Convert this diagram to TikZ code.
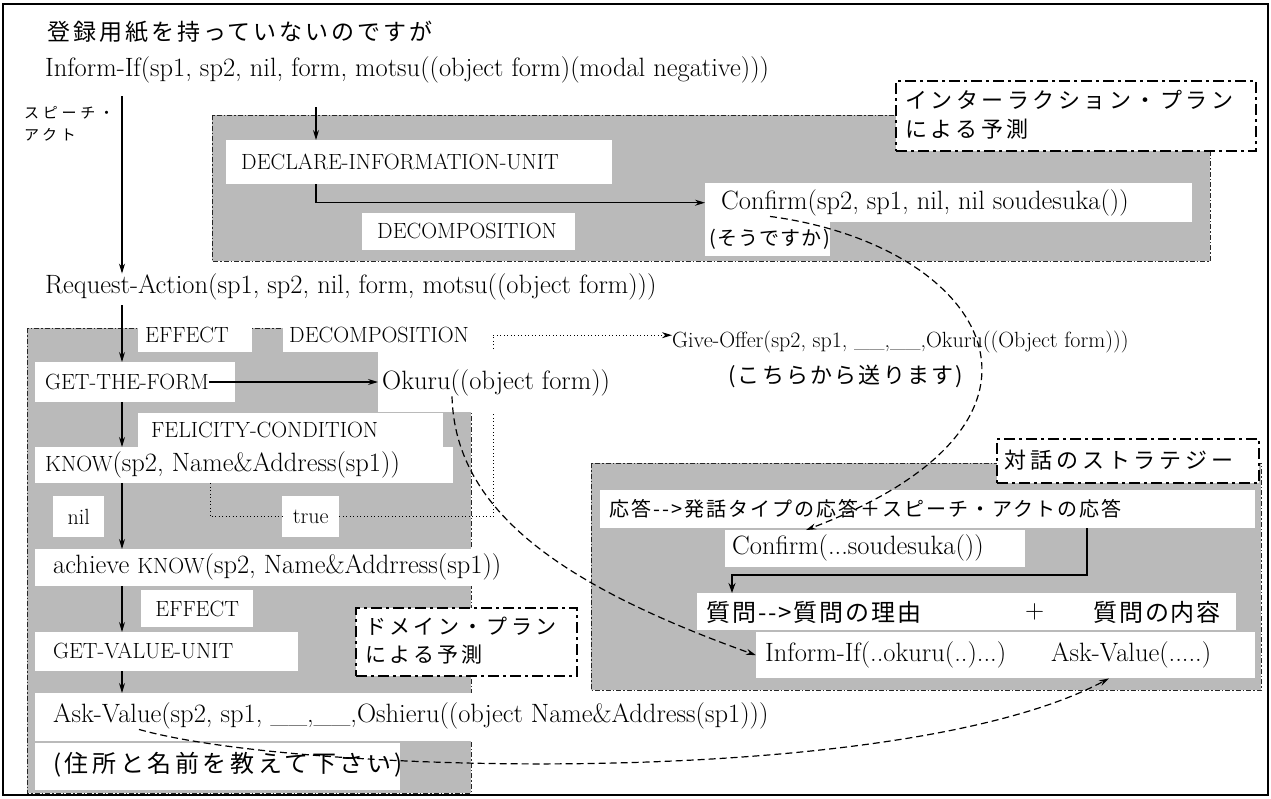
\documentclass[tikz,border=0pt]{standalone}
\usepackage{fontspec}
\newfontfamily\jp{Noto Sans CJK JP}
\usetikzlibrary{arrows.meta}
\newcommand\J[3]{{\jp\fontsize{#1}{#1}\selectfont\addfontfeature{LetterSpace=#2}#3}}
\newcommand\fL{\fontsize{26.5}{30}\selectfont}
\newcommand\fC{\fontsize{22}{26}\selectfont}
\newcommand\fG{\fontsize{22}{26}\selectfont}
\begin{document}
\begin{tikzpicture}[x=1pt,y=-1pt,
  txt/.style={inner sep=0pt, anchor=west},
  wbox/.style={fill=white, draw=none, inner sep=0pt, anchor=north west},
  grayreg/.style={fill=black!27, draw=black!85, line width=0.7pt, dash pattern=on 5pt off 2pt on 1.5pt off 2pt},
  planbox/.style={draw=black, fill=white, inner sep=0pt, anchor=north west, line width=2.4pt, dash pattern=on 11pt off 4pt on 3pt off 4pt},
  arr/.style={draw=black, line width=1.1pt, -{Stealth[length=10pt,width=6pt]}},
  thickarr/.style={draw=black, line width=1.8pt, -{Stealth[length=10pt,width=7pt]}},
  dashcurve/.style={draw=black, line width=1.2pt, dash pattern=on 7pt off 4pt, -{Stealth[length=10pt,width=6pt]}},
  dotline/.style={draw=black, line width=1pt, dash pattern=on 1pt off 2.5pt},
]
\useasboundingbox (0,0) rectangle (1271,798);
\fill[white] (0,0) rectangle (1271,798);
\draw[line width=1.6pt] (3,4) rectangle (1268,795);

% helper coordinates
\coordinate (mA) at (122,0);
\coordinate (dA) at (316,0);
\coordinate (tL) at (210,0);
\coordinate (p1) at (770,0);
\coordinate (p2) at (806,0);
\coordinate (p3) at (452,0);
\coordinate (p4) at (139,0);
\coordinate (p5) at (1109,0);
\coordinate (r1) at (1087,575);
\coordinate (r2) at (732,575);

% gray regions
\path[grayreg] (212,115) rectangle (1210,261);
\path[grayreg] (27,328) rectangle (471,793);
\path[grayreg] (591,463) rectangle (1261,690);

% plan label boxes
\node[planbox, minimum width=360, minimum height=70] (pIP) at (895,80) {};
\node[planbox, minimum width=262, minimum height=44] (pTai) at (996,438) {};
\node[planbox, minimum width=221, minimum height=68] (pDom) at (355,607) {};

% white boxes (nil/true row boxes first, dotted branch lines are hidden by boxes they pass under)
\node[wbox, minimum width=51, minimum height=41] (bNil) at (53,496) {};
\node[wbox, minimum width=57, minimum height=41] (bTrue) at (282,496) {};
\node[wbox, minimum width=210, minimum height=34] (bDec2) at (283,318) {};
\node[wbox, minimum width=418, minimum height=36] (bKnow) at (35,447) {};
\draw[dotline] (bKnow.south -| tL) |- (bTrue.west);
\draw[dotline] (bTrue.east) -| (bDec2.east);

\node[wbox, minimum width=386, minimum height=44] (bDecl) at (226,140) {};
\node[wbox, minimum width=213, minimum height=37] (bDec1) at (362,213) {};
\node[wbox, minimum width=487, minimum height=39] (bConf1) at (705,183) {};
\node[wbox, minimum width=125, minimum height=34] (bSou) at (705,222) {};
\node[wbox, minimum width=114, minimum height=34] (bEff1) at (138,318) {};
\node[wbox, minimum width=200, minimum height=40] (bGetF) at (35,362) {};
\node[wbox, minimum width=282, minimum height=62] (bOku) at (378,350) {};
\node[wbox, minimum width=305, minimum height=34] (bFel) at (138,413) {};
\node[wbox, minimum width=545, minimum height=37] (bAch) at (35,549) {};
\node[wbox, minimum width=112, minimum height=37] (bEff2) at (141,590) {};
\node[wbox, minimum width=263, minimum height=39] (bGetV) at (35,632) {};
\node[wbox, minimum width=800, minimum height=48] (bAsk) at (35,693) {};
\node[wbox, minimum width=365, minimum height=47] (bJu) at (35,743) {};
\node[wbox, minimum width=655, minimum height=38] (bOut) at (600,490) {};
\node[wbox, minimum width=300, minimum height=37] (bConf2) at (725,530) {};
\node[wbox, minimum width=539, minimum height=37] (bShi) at (697,593) {};
\node[wbox, minimum width=499, minimum height=46] (bInf2) at (756,632) {};

% texts
\node[txt] (tTitle) at (47,32) {\J{23}{13}{登録用紙を持っていないのですが}};
\node[txt] (tInf) at (45,70) {\fL Inform-If(sp1, sp2, nil, form, motsu((object form)(modal negative)))};
\node[txt] (tSp1) at (24,113) {\J{15}{25}{スピーチ・}};
\node[txt] (tSp2) at (24,135) {\J{15}{25}{アクト}};
\node[txt] (tDecl) at (241,162) {\fC DECLARE-INFORMATION-UNIT};
\node[txt] (tDec1) at (377,231) {\fC DECOMPOSITION};
\node[txt] (tConf1) at (721,203) {\fL Confirm(sp2, sp1, nil, nil soudesuka())};
\node[txt] (tSou) at (709,239) {\J{20}{6}{(そうですか)}};
\node[txt] (tIP1) at (905,100) {\J{22}{16}{インターラクション・プラン}};
\node[txt] (tIP2) at (905,129) {\J{22}{16}{による予測}};
\node[txt] (tReq) at (45,287) {\fL Request-Action(sp1, sp2, nil, form, motsu((object form)))};
\node[txt] (tGive) at (672,342) {\fG Give-Offer(sp2, sp1, \_\_,\_\_,Okuru((Object form)))};
\node[txt] (tKochi) at (728,376) {\J{22}{10}{(こちらから送ります)}};
\node[txt] (tEff1) at (145,335) {\fC EFFECT};
\node[txt] (tDec2) at (289,335) {\fC DECOMPOSITION};
\node[txt] (tGetF) at (45,382) {\fC GET-THE-FORM};
\node[txt] (tOku) at (382,383) {\fL Okuru((object form))};
\node[txt] (tFel) at (151,430) {\fC FELICITY-CONDITION};
\node[txt] (tKnow) at (45,465) {\fC KNOW\fL(sp2, Name\&Address(sp1))};
\node[inner sep=0pt] (tNil) at (bNil.center) {\fC nil};
\node[inner sep=0pt] (tTrue) at (bTrue.center) {\fC true};
\node[txt] (tAch) at (53,567) {\fL achieve \fC KNOW\fL(sp2, Name\&Addrress(sp1))};
\node[inner sep=0pt] (tEff2) at (bEff2.center) {\fC EFFECT};
\node[txt] (tGetV) at (53,651) {\fC GET-VALUE-UNIT};
\node[txt] (tDom1) at (365,626) {\J{21}{16}{ドメイン・プラン}};
\node[txt] (tDom2) at (365,655) {\J{21}{16}{による予測}};
\node[txt] (tAsk) at (53,716) {\fL Ask-Value(sp2, sp1, \_\_,\_\_,Oshieru((object Name\&Address(sp1)))};
\node[txt] (tJu) at (53,765) {\J{24}{15}{(住所と名前を教えて下さい)}};
\node[txt] (tTaiwa) at (1004,460) {\J{22}{18}{対話のストラテジー}};
\node[txt] (tOut) at (609,509) {\J{20}{10}{応答-{}-{}>発話タイプの応答＋スピーチ・アクトの応答}};
\node[txt] (tConf2) at (732,548) {\fL Confirm(...soudesuka())};
\node[txt] (tShi1) at (706,612) {\J{24}{8}{質問-{}-{}>質問の理由}};
\node[txt] (tPlus) at (1025,612) {\fL +};
\node[txt] (tShi2) at (1093,612) {\J{24}{8}{質問の内容}};
\node[txt] (tInf3) at (765,655) {\fL Inform-If(..okuru(..)...)};
\node[txt] (tAskv) at (1051,655) {\fL Ask-Value(.....)};

% connectors
\draw[arr, shorten <=13pt] (tInf.south -| mA) -- (tReq.north -| mA);
\draw[arr, shorten <=24pt] (tInf.south -| dA) -- (bDecl.north -| dA);
\draw[arr] (bDecl.south -| dA) |- (bConf1.west);
\draw[arr, shorten <=5pt] (tReq.south -| mA) -- (bGetF.north -| mA);
\draw[arr] (bGetF.south -| mA) -- (bKnow.north -| mA);
\draw[arr] (bKnow.south -| mA) -- (bAch.north -| mA);
\draw[arr] (bAch.south -| mA) -- (bGetV.north -| mA);
\draw[arr] (bGetV.south -| mA) -- (bAsk.north -| mA);
\draw[arr] (tGetF.east) -- (tGetF.east -| bOku.west);
\draw[dotline, -{Stealth[length=10pt,width=6pt]}] (bDec2.east) -- (bDec2.east -| tGive.west);
\draw[thickarr] (bOut.south -| r1) -- (r1) -- (r2) -- (bShi.north -| r2);
\draw[dashcurve] (tConf1.south -| p1) .. controls (985,245) and (1095,420) .. (bConf2.north -| p2);
\draw[dashcurve] (tOku.south -| p3) .. controls (455,510) and (560,585) .. (bInf2.west);
\draw[dashcurve] (tAsk.south -| p4) .. controls (300,775) and (900,790) .. (bInf2.south -| p5);
\end{tikzpicture}
\end{document}
